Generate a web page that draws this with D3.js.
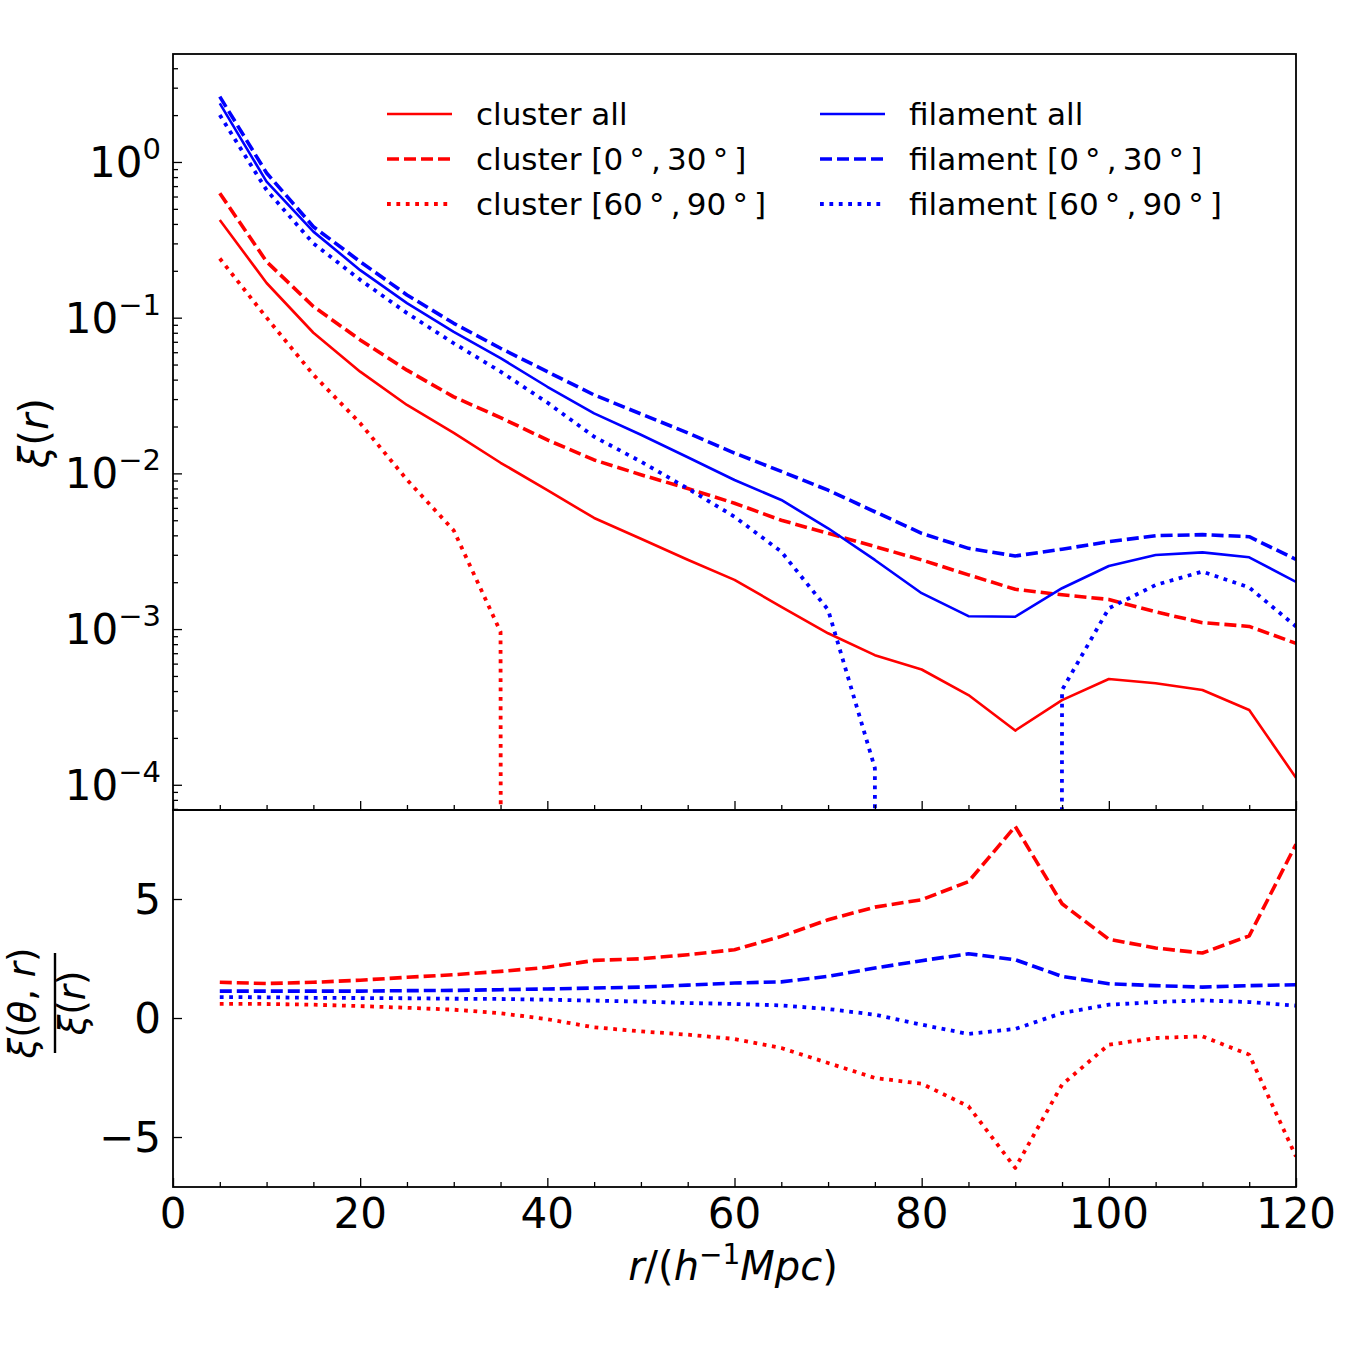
<!DOCTYPE html>
<html>
<head>
<meta charset="utf-8">
<script src="https://cdn.jsdelivr.net/npm/d3@7"></script>
<style>
  body { margin: 0; background: #fff; }
  text { font-family: "DejaVu Sans", sans-serif; fill: #000; }
</style>
</head>
<body>
<div id="chart"></div>
<script>
// separation r in h^-1 Mpc
const r = [5, 10, 15, 20, 25, 30, 35, 40, 45, 50, 55, 60, 65, 70, 75, 80, 85, 90, 95, 100, 105, 110, 115, 120]

// top panel, xi(r) (0 = non-positive value, clipped on the log axis like matplotlib does)
const clusterAll = [0.424, 0.167, 0.080, 0.045, 0.0275, 0.0182, 0.0117, 0.0078, 0.00517, 0.0038, 0.00279, 0.00207,
  0.00139, 0.00094, 0.00068, 0.00055, 0.000377, 0.000223, 0.00035, 0.000478, 0.000449, 0.000406, 0.000302, 0.000111]
const cluster0_30 = [0.63, 0.229, 0.118, 0.072, 0.046, 0.031, 0.0228, 0.0164, 0.0122, 0.0098, 0.0080, 0.00643,
  0.0050, 0.00412, 0.00339, 0.00278, 0.00223, 0.0018, 0.00166, 0.00155, 0.00129, 0.0011, 0.00104, 0.00081]
const cluster60_90 = [0.24, 0.10, 0.043, 0.021, 0.0091, 0.0043, 0.00096, 0, 0, 0, 0, 0,
  0, 0, 0, 0, 0, 0, 0, 0, 0, 0, 0, 0]
const filamentAll = [2.38, 0.747, 0.357, 0.202, 0.124, 0.081, 0.055, 0.036, 0.0243, 0.0177, 0.0127, 0.00907,
  0.00675, 0.00444, 0.00278, 0.0017, 0.00121, 0.0012, 0.00183, 0.00254, 0.00299, 0.00311, 0.00289, 0.00201]
const filament0_30 = [2.63, 0.85, 0.384, 0.229, 0.14, 0.092, 0.0636, 0.045, 0.0319, 0.0241, 0.0182, 0.0135,
  0.0103, 0.0078, 0.00567, 0.00412, 0.0033, 0.00295, 0.00326, 0.00364, 0.00398, 0.00404, 0.00392, 0.0028]
const filament60_90 = [2.0, 0.66, 0.30, 0.175, 0.107, 0.0685, 0.045, 0.0285, 0.0172, 0.0119, 0.008, 0.00527,
  0.00314, 0.00133, 0.000128, 0, 0, 0, 0.000406, 0.00136, 0.00192, 0.00234, 0.00185, 0.00104]

// bottom panel, xi(theta, r) / xi(r)
const ratioCluster0_30 = [1.50, 1.45, 1.50, 1.59, 1.71, 1.82, 1.96, 2.13, 2.42, 2.49, 2.66, 2.87,
  3.43, 4.13, 4.66, 4.97, 5.73, 8.05, 4.80, 3.31, 2.94, 2.73, 3.45, 7.3]
const ratioCluster60_90 = [0.59, 0.59, 0.56, 0.50, 0.43, 0.35, 0.2, -0.05, -0.39, -0.56, -0.70, -0.88,
  -1.26, -1.89, -2.52, -2.76, -3.71, -6.3, -2.80, -1.12, -0.84, -0.77, -1.54, -5.82]
const ratioFilament0_30 = [1.13, 1.13, 1.13, 1.13, 1.15, 1.16, 1.19, 1.22, 1.26, 1.30, 1.38, 1.47,
  1.52, 1.75, 2.10, 2.41, 2.70, 2.45, 1.75, 1.44, 1.36, 1.30, 1.36, 1.40]
const ratioFilament60_90 = [0.88, 0.87, 0.85, 0.84, 0.83, 0.81, 0.80, 0.77, 0.73, 0.69, 0.63, 0.59,
  0.53, 0.38, 0.14, -0.28, -0.67, -0.46, 0.21, 0.56, 0.67, 0.74, 0.67, 0.52]

const xTicks = [0, 20, 40, 60, 80, 100, 120]
const yTopTicks = [0, -1, -2, -3, -4]   // exponents
const yBotTicks = [5, 0, -5]

const legendNames = ["cluster all", "cluster [0\u2009°\u2009,\u200930\u2009°\u2009]", "cluster [60\u2009°\u2009,\u200990\u2009°\u2009]",
  "filament all", "filament [0\u2009°\u2009,\u200930\u2009°\u2009]", "filament [60\u2009°\u2009,\u200990\u2009°\u2009]"]

const width = 1350, height = 1350
const pLeft = 173, pRight = 1296, pTop = 54, pMid = 810, pBottom = 1187

const styles = {
  solid: { w: 2.6, dash: null },
  dashed: { w: 3.6, dash: "12,5" },
  dotted: { w: 3.8, dash: "3.8,5.6" }
}

const topSeries = [
  { v: clusterAll, color: "red", s: "solid" },
  { v: cluster0_30, color: "red", s: "dashed" },
  { v: cluster60_90, color: "red", s: "dotted" },
  { v: filamentAll, color: "blue", s: "solid" },
  { v: filament0_30, color: "blue", s: "dashed" },
  { v: filament60_90, color: "blue", s: "dotted" }
]
const botSeries = [
  { v: ratioCluster0_30, color: "red", s: "dashed" },
  { v: ratioCluster60_90, color: "red", s: "dotted" },
  { v: ratioFilament0_30, color: "blue", s: "dashed" },
  { v: ratioFilament60_90, color: "blue", s: "dotted" }
]

let svg = d3.select("#chart").append("svg")
  .attr("width", width)
  .attr("height", height)
  .style("background", "#fff")

let x = d3.scaleLinear().domain([0, 120]).range([pLeft, pRight])
let yTop = d3.scaleLog().domain([6.887e-5, 4.937]).range([pMid, pTop])
let yBot = d3.scaleLinear().domain([-7.1, 8.74]).range([pBottom, pMid])

let defs = svg.append("defs")
defs.append("clipPath").attr("id", "clipTop")
  .append("rect").attr("x", pLeft).attr("y", pTop).attr("width", pRight - pLeft).attr("height", pMid - pTop)
defs.append("clipPath").attr("id", "clipBot")
  .append("rect").attr("x", pLeft).attr("y", pMid).attr("width", pRight - pLeft).attr("height", pBottom - pMid)

// ---- top panel lines
let lineTop = d3.line()
  .x((d, i) => x(r[i]))
  .y(d => yTop(Math.max(d, 1e-300)))   // matplotlib style clipping of non-positive values

svg.append("g").attr("clip-path", "url(#clipTop)")
  .selectAll("path")
  .data(topSeries)
  .enter().append("path")
  .attr("d", d => lineTop(d.v))
  .attr("fill", "none")
  .attr("stroke", d => d.color)
  .attr("stroke-width", d => styles[d.s].w)
  .attr("stroke-dasharray", d => styles[d.s].dash)
  .attr("stroke-linejoin", "round")

// ---- bottom panel lines
let lineBot = d3.line()
  .x((d, i) => x(r[i]))
  .y(d => yBot(d))

svg.append("g").attr("clip-path", "url(#clipBot)")
  .selectAll("path")
  .data(botSeries)
  .enter().append("path")
  .attr("d", d => lineBot(d.v))
  .attr("fill", "none")
  .attr("stroke", d => d.color)
  .attr("stroke-width", d => styles[d.s].w)
  .attr("stroke-dasharray", d => styles[d.s].dash)
  .attr("stroke-linejoin", "round")

// ---- ticks (all pointing inward)
const minorX = d3.range(5, 120, 5).filter(v => v % 20 != 0)
let logMinor = []
for (let e = -5; e <= 0; e++) {
  for (let k = 2; k <= 9; k++) {
    let v = k * Math.pow(10, e)
    if (v >= yTop.domain()[0] && v <= yTop.domain()[1]) logMinor.push(v)
  }
}

function tickAxis(axis, transform) {
  let g = svg.append("g").attr("transform", transform).call(axis)
  g.select(".domain").remove()
  g.selectAll("line").attr("stroke", "#000").attr("stroke-width", 1.3)
  g.selectAll("text").remove()
}

tickAxis(d3.axisLeft(yTop).tickValues(yTopTicks.map(e => Math.pow(10, e))).tickSize(-9), `translate(${pLeft},0)`)
tickAxis(d3.axisLeft(yTop).tickValues(logMinor).tickSize(-5), `translate(${pLeft},0)`)
tickAxis(d3.axisBottom(x).tickValues(xTicks).tickSize(-9), `translate(0,${pMid})`)
tickAxis(d3.axisBottom(x).tickValues(minorX).tickSize(-5), `translate(0,${pMid})`)
tickAxis(d3.axisLeft(yBot).tickValues(yBotTicks).tickSize(-9), `translate(${pLeft},0)`)
tickAxis(d3.axisBottom(x).tickValues(xTicks).tickSize(-9), `translate(0,${pBottom})`)
tickAxis(d3.axisBottom(x).tickValues(minorX).tickSize(-5), `translate(0,${pBottom})`)

// ---- frames
svg.append("rect").attr("x", pLeft).attr("y", pTop).attr("width", pRight - pLeft).attr("height", pMid - pTop)
  .attr("fill", "none").attr("stroke", "#000").attr("stroke-width", 1.8)
svg.append("rect").attr("x", pLeft).attr("y", pMid).attr("width", pRight - pLeft).attr("height", pBottom - pMid)
  .attr("fill", "none").attr("stroke", "#000").attr("stroke-width", 1.8)

// ---- tick labels
svg.append("g").selectAll("text")
  .data(xTicks)
  .enter().append("text")
  .attr("x", d => x(d))
  .attr("y", 1228)
  .attr("text-anchor", "middle")
  .style("font-size", "42px")
  .text(d => d)

let topLabels = svg.append("g").selectAll("text")
  .data(yTopTicks)
  .enter().append("text")
  .attr("x", 161)
  .attr("y", d => yTop(Math.pow(10, d)) + 15)
  .attr("text-anchor", "end")
  .style("font-size", "42px")
topLabels.append("tspan").text("10")
topLabels.append("tspan").attr("dy", -18).style("font-size", "29px")
  .text(d => d == 0 ? "0" : "\u2212" + Math.abs(d))

svg.append("g").selectAll("text")
  .data(yBotTicks)
  .enter().append("text")
  .attr("x", 161)
  .attr("y", d => yBot(d) + 15)
  .attr("text-anchor", "end")
  .style("font-size", "42px")
  .text(d => d < 0 ? "\u2212" + Math.abs(d) : d)

// ---- axis labels
let xl = svg.append("text")
  .attr("x", 733)
  .attr("y", 1280)
  .attr("text-anchor", "middle")
  .style("font-size", "40px")
xl.append("tspan").style("font-style", "italic").text("r")
xl.append("tspan").text("/(")
xl.append("tspan").style("font-style", "italic").text("h")
xl.append("tspan").attr("dy", -16).style("font-size", "28px").text("\u22121")
xl.append("tspan").attr("dy", 16).style("font-style", "italic").text("Mpc")
xl.append("tspan").text(")")

let yl = svg.append("text")
  .attr("transform", "translate(48,433) rotate(-90)")
  .attr("text-anchor", "middle")
  .style("font-size", "40px")
yl.append("tspan").style("font-style", "italic").text("ξ")
yl.append("tspan").text("(")
yl.append("tspan").style("font-style", "italic").text("r")
yl.append("tspan").text(")")

let frac = svg.append("g").attr("transform", "translate(55,1003) rotate(-90)")
frac.append("line").attr("x1", -50).attr("x2", 50).attr("y1", 0).attr("y2", 0)
  .attr("stroke", "#000").attr("stroke-width", 2.4)
let num = frac.append("text").attr("x", 0).attr("y", -20).attr("text-anchor", "middle").style("font-size", "37px")
num.append("tspan").style("font-style", "italic").text("ξ")
num.append("tspan").text("(")
num.append("tspan").style("font-style", "italic").text("θ")
num.append("tspan").text(", ")
num.append("tspan").style("font-style", "italic").text("r")
num.append("tspan").text(")")
let den = frac.append("text").attr("x", 0).attr("y", 30).attr("text-anchor", "middle").style("font-size", "37px")
den.append("tspan").style("font-style", "italic").text("ξ")
den.append("tspan").text("(")
den.append("tspan").style("font-style", "italic").text("r")
den.append("tspan").text(")")

// ---- legend, two columns of three
let legendItems = topSeries.map((d, i) => ({ name: legendNames[i], color: d.color, s: d.s, col: Math.floor(i / 3), row: i % 3 }))

let leg = svg.append("g").selectAll("g")
  .data(legendItems)
  .enter().append("g")
  .attr("transform", d => `translate(${d.col == 0 ? 387 : 820},${114 + d.row * 45})`)

leg.append("line")
  .attr("x1", 0).attr("x2", 65).attr("y1", 0).attr("y2", 0)
  .attr("stroke", d => d.color)
  .attr("stroke-width", d => styles[d.s].w)
  .attr("stroke-dasharray", d => styles[d.s].dash)

leg.append("text")
  .attr("x", 89)
  .attr("y", 11)
  .style("font-size", "31px")
  .text(d => d.name)
</script>
</body>
</html>
